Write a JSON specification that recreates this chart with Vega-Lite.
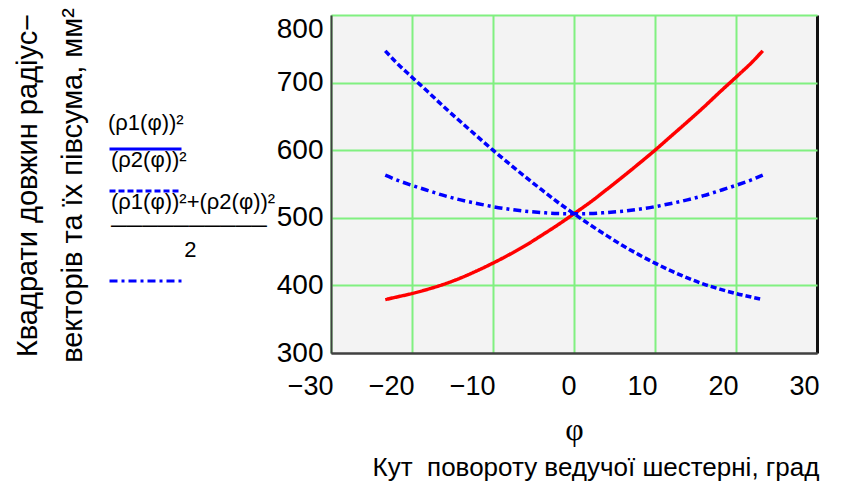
{
  "$schema": "https://vega.github.io/schema/vega-lite/v6.json",
  "width": 486,
  "height": 338,
  "autosize": {"type": "none"},
  "padding": {"left": 331, "top": 15, "right": 29, "bottom": 140},
  "background": "white",
  "config": {
    "view": {"fill": "#f3f3f3", "stroke": null},
    "font": "Liberation Sans, sans-serif"
  },
  "title": {
    "text": "Кут\u00a0 повороту ведучої шестерні, град",
    "orient": "bottom",
    "anchor": "middle",
    "font": "Liberation Sans, sans-serif",
    "fontSize": 26,
    "fontWeight": "normal",
    "color": "#000000",
    "dx": 22,
    "offset": 10
  },
  "data": {
    "values": [
      {"phi": -23.3, "val": 379, "s": "r1"}, {"phi": -22, "val": 382.5, "s": "r1"}, {"phi": -20, "val": 388, "s": "r1"},
      {"phi": -18, "val": 394.5, "s": "r1"}, {"phi": -16, "val": 402, "s": "r1"}, {"phi": -14, "val": 411, "s": "r1"},
      {"phi": -12, "val": 421.5, "s": "r1"}, {"phi": -10, "val": 433, "s": "r1"}, {"phi": -8, "val": 445.5, "s": "r1"},
      {"phi": -6, "val": 459, "s": "r1"}, {"phi": -4, "val": 474, "s": "r1"}, {"phi": -2, "val": 489.5, "s": "r1"},
      {"phi": 0, "val": 506, "s": "r1"}, {"phi": 2, "val": 523, "s": "r1"}, {"phi": 4, "val": 541.5, "s": "r1"},
      {"phi": 6, "val": 560.5, "s": "r1"}, {"phi": 8, "val": 580, "s": "r1"}, {"phi": 10, "val": 600, "s": "r1"},
      {"phi": 12, "val": 621, "s": "r1"}, {"phi": 14, "val": 642, "s": "r1"}, {"phi": 16, "val": 663.5, "s": "r1"},
      {"phi": 18, "val": 686, "s": "r1"}, {"phi": 20, "val": 708, "s": "r1"}, {"phi": 22, "val": 730.5, "s": "r1"},
      {"phi": 23.3, "val": 747, "s": "r1"},

      {"phi": -23.3, "val": 747, "s": "r2"}, {"phi": -22, "val": 730.5, "s": "r2"}, {"phi": -20, "val": 708, "s": "r2"},
      {"phi": -18, "val": 686, "s": "r2"}, {"phi": -16, "val": 663.5, "s": "r2"}, {"phi": -14, "val": 642, "s": "r2"},
      {"phi": -12, "val": 621, "s": "r2"}, {"phi": -10, "val": 600, "s": "r2"}, {"phi": -8, "val": 580, "s": "r2"},
      {"phi": -6, "val": 560.5, "s": "r2"}, {"phi": -4, "val": 541.5, "s": "r2"}, {"phi": -2, "val": 523, "s": "r2"},
      {"phi": 0, "val": 506, "s": "r2"}, {"phi": 2, "val": 489.5, "s": "r2"}, {"phi": 4, "val": 474, "s": "r2"},
      {"phi": 6, "val": 459, "s": "r2"}, {"phi": 8, "val": 445.5, "s": "r2"}, {"phi": 10, "val": 433, "s": "r2"},
      {"phi": 12, "val": 421.5, "s": "r2"}, {"phi": 14, "val": 411, "s": "r2"}, {"phi": 16, "val": 402, "s": "r2"},
      {"phi": 18, "val": 394.5, "s": "r2"}, {"phi": 20, "val": 388, "s": "r2"}, {"phi": 22, "val": 382.5, "s": "r2"},
      {"phi": 23.3, "val": 379, "s": "r2"},

      {"phi": -23.3, "val": 563, "s": "avg"}, {"phi": -22, "val": 556.5, "s": "avg"}, {"phi": -20, "val": 548, "s": "avg"},
      {"phi": -18, "val": 540.25, "s": "avg"}, {"phi": -16, "val": 532.75, "s": "avg"}, {"phi": -14, "val": 526.5, "s": "avg"},
      {"phi": -12, "val": 521.25, "s": "avg"}, {"phi": -10, "val": 516.5, "s": "avg"}, {"phi": -8, "val": 512.75, "s": "avg"},
      {"phi": -6, "val": 509.75, "s": "avg"}, {"phi": -4, "val": 507.75, "s": "avg"}, {"phi": -2, "val": 506.25, "s": "avg"},
      {"phi": 0, "val": 506, "s": "avg"}, {"phi": 2, "val": 506.25, "s": "avg"}, {"phi": 4, "val": 507.75, "s": "avg"},
      {"phi": 6, "val": 509.75, "s": "avg"}, {"phi": 8, "val": 512.75, "s": "avg"}, {"phi": 10, "val": 516.5, "s": "avg"},
      {"phi": 12, "val": 521.25, "s": "avg"}, {"phi": 14, "val": 526.5, "s": "avg"}, {"phi": 16, "val": 532.75, "s": "avg"},
      {"phi": 18, "val": 540.25, "s": "avg"}, {"phi": 20, "val": 548, "s": "avg"}, {"phi": 22, "val": 556.5, "s": "avg"},
      {"phi": 23.3, "val": 563, "s": "avg"}
    ]
  },
  "mark": {"type": "line", "strokeWidth": 3.5, "interpolate": "monotone"},
  "encoding": {
    "x": {
      "field": "phi",
      "type": "quantitative",
      "scale": {"domain": [-30, 30], "nice": false},
      "axis": {
        "values": [-30, -20, -10, 0, 10, 20, 30],
        "ticks": false,
        "tickSize": 0,
        "labelFont": "Liberation Sans, sans-serif",
        "labelFontSize": 27,
        "labelColor": "#000000",
        "labelPadding": 20,
        "labelAlign": "right",
        "labelFlush": false,
        "labelOffset": 2,
        "grid": true,
        "gridColor": {"condition": {"test": "datum.value == 30", "value": "#111111"}, "value": "#80f080"},
        "gridWidth": {"condition": {"test": "datum.value == 30", "value": 3}, "value": 2},
        "domainColor": "#404040",
        "domainWidth": 2,
        "title": "φ",
        "titleFont": "Liberation Serif, DejaVu Serif, serif",
        "titleFontSize": 32,
        "titleFontWeight": "normal",
        "titleColor": "#000000",
        "titlePadding": 15
      }
    },
    "y": {
      "field": "val",
      "type": "quantitative",
      "scale": {"domain": [300, 800], "nice": false, "zero": false},
      "axis": {
        "values": [300, 400, 500, 600, 700, 800],
        "ticks": false,
        "tickSize": 0,
        "labelFont": "Liberation Sans, sans-serif",
        "labelFontSize": 28,
        "labelColor": "#000000",
        "labelPadding": 8,
        "labelFlush": false,
        "labelBaseline": {"condition": {"test": "datum.value == 800", "value": "top"}, "value": "middle"},
        "grid": true,
        "gridColor": {"condition": {"test": "datum.value == 300", "value": "#404040"}, "value": "#80f080"},
        "gridWidth": 2,
        "domainColor": "#404040",
        "domainWidth": 2,
        "title": ["Квадрати довжин радіус−", "векторів та їх півсума, мм²"],
        "titleFont": "Liberation Sans, sans-serif",
        "titleFontSize": 29,
        "titleFontWeight": "normal",
        "titleColor": "#000000",
        "titleAngle": 270,
        "titleAlign": "center",
        "titleBaseline": "top",
        "titleLineHeight": 45,
        "titleX": -318,
        "titleY": 170
      }
    },
    "stroke": {
      "condition": {"test": "datum.s == 'r1'", "value": "#ff0000"},
      "value": "#0000ff"
    },
    "strokeDash": {
      "field": "s",
      "type": "nominal",
      "scale": {"domain": ["r1", "r2", "avg"], "range": [[1, 0], [6, 3], [8, 4, 3, 4]]},
      "legend": {
        "orient": "none",
        "legendX": -223,
        "legendY": 98,
        "title": "(ρ1(φ))²",
        "titleFont": "Liberation Sans, sans-serif",
        "titleFontSize": 22,
        "titleFontWeight": "normal",
        "titleColor": "#000000",
        "titlePadding": 12,
        "padding": 0,
        "symbolType": "stroke",
        "symbolSize": 5184,
        "symbolStrokeWidth": 3,
        "symbolStrokeColor": "#0000ff",
        "clipHeight": 4,
        "rowPadding": 18,
        "labelFont": "Liberation Sans, sans-serif",
        "labelFontSize": 22,
        "labelColor": "#000000",
        "labelLineHeight": 24,
        "labelBaseline": "line-top",
        "labelOffset": -72,
        "labelLimit": 0,
        "labelExpr": "datum.label == 'r1' ? '(ρ2(φ))²' : datum.label == 'r2' ? ['(ρ1(φ))²+(ρ2(φ))²', '──────────', '\u200b\u00a0\u00a0\u00a0\u00a0\u00a0\u00a0\u00a0\u00a0\u00a0\u00a0\u00a0\u00a02'] : ''"
      }
    }
  }
}
